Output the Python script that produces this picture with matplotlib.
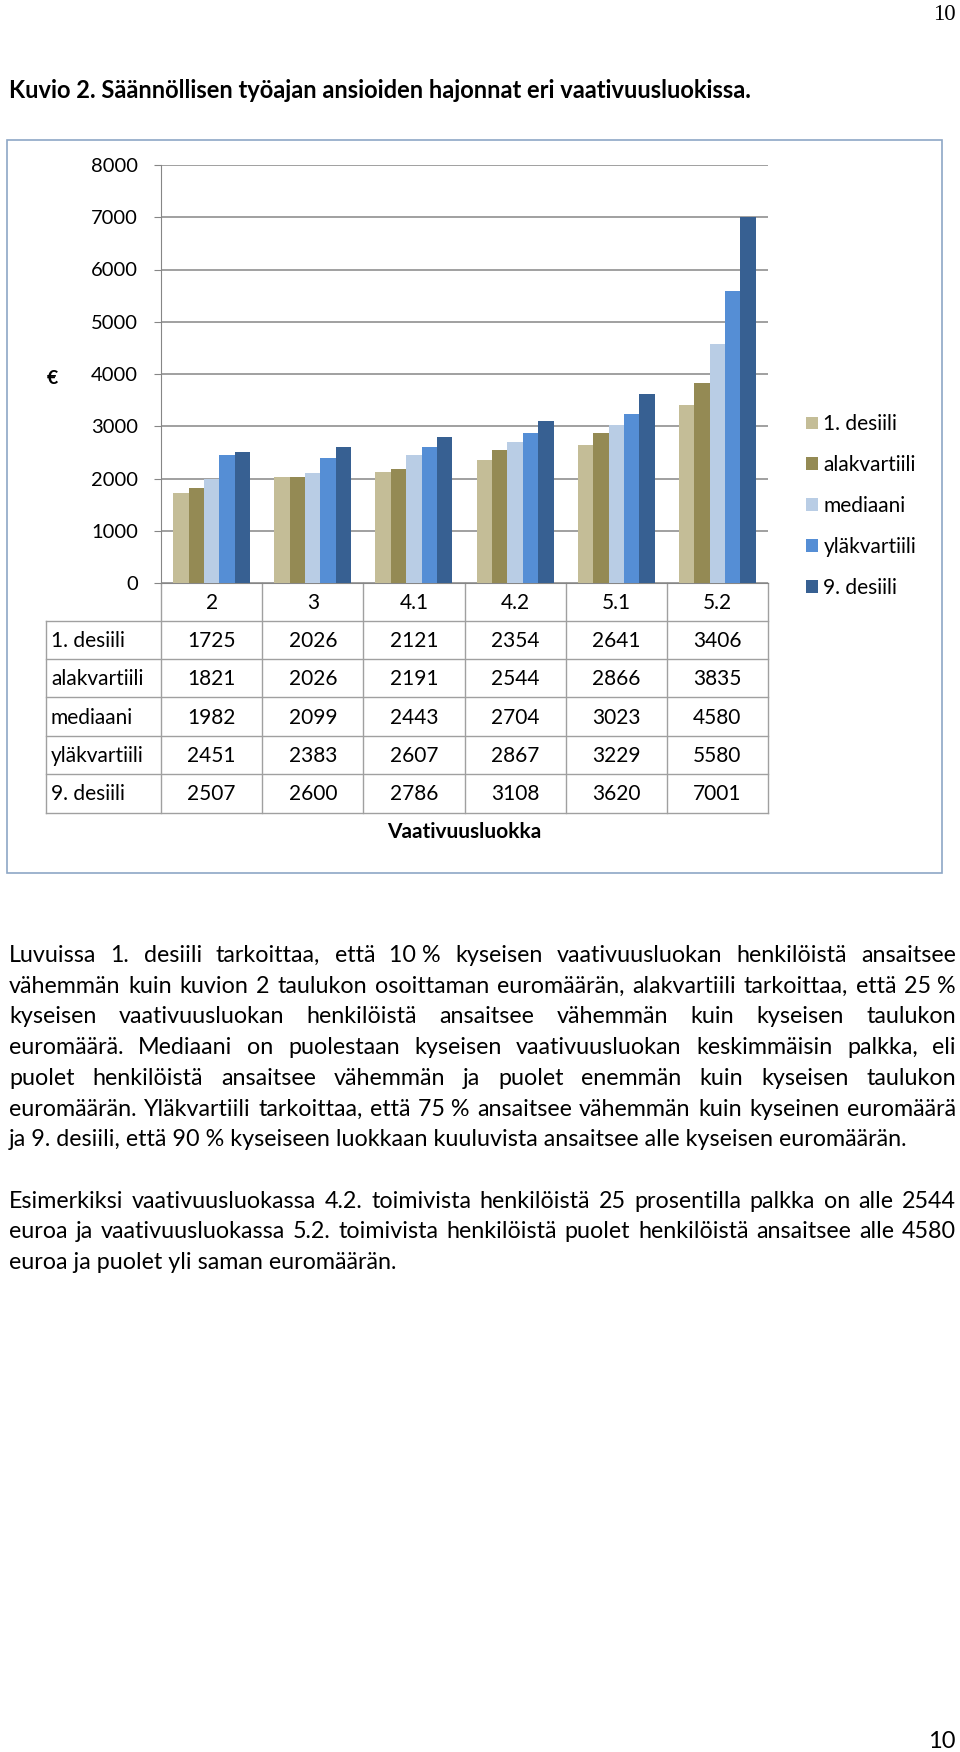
import numpy as np
import matplotlib
matplotlib.use('Agg')
from matplotlib import pyplot as plt
from matplotlib.patches import Rectangle

plt.rcParams['font.family'] = ['Lato', 'DejaVu Sans']

# data
categories = ['2', '3', '4.1', '4.2', '5.1', '5.2']
series_names = ['1. desiili', 'alakvartiili', 'mediaani', 'yläkvartiili', '9. desiili']
desiili_1 = [1725, 2026, 2121, 2354, 2641, 3406]
alakvartiili = [1821, 2026, 2191, 2544, 2866, 3835]
mediaani = [1982, 2099, 2443, 2704, 3023, 4580]
ylakvartiili = [2451, 2383, 2607, 2867, 3229, 5580]
desiili_9 = [2507, 2600, 2786, 3108, 3620, 7001]
yticks = [0, 1000, 2000, 3000, 4000, 5000, 6000, 7000, 8000]

title = 'Kuvio 2. Säännöllisen työajan ansioiden hajonnat eri vaativuusluokissa.'
x_label = 'Vaativuusluokka'
y_label = '€'
page_number = '10'

NB = '\u00a0'
paragraph_1 = [
    'Luvuissa 1. desiili tarkoittaa, että 10' + NB + '% kyseisen vaativuusluokan henkilöistä ansaitsee',
    'vähemmän kuin kuvion 2 taulukon osoittaman euromäärän, alakvartiili tarkoittaa, että 25' + NB + '%',
    'kyseisen vaativuusluokan henkilöistä ansaitsee vähemmän kuin kyseisen taulukon',
    'euromäärä. Mediaani on puolestaan kyseisen vaativuusluokan keskimmäisin palkka, eli',
    'puolet henkilöistä ansaitsee vähemmän ja puolet enemmän kuin kyseisen taulukon',
    'euromäärän. Yläkvartiili tarkoittaa, että 75' + NB + '% ansaitsee vähemmän kuin kyseinen euromäärä',
    'ja 9. desiili, että 90' + NB + '% kyseiseen luokkaan kuuluvista ansaitsee alle kyseisen euromäärän.',
]
paragraph_2 = [
    'Esimerkiksi vaativuusluokassa 4.2. toimivista henkilöistä 25 prosentilla palkka on alle 2544',
    'euroa ja vaativuusluokassa 5.2. toimivista henkilöistä puolet henkilöistä ansaitsee alle 4580',
    'euroa ja puolet yli saman euromäärän.',
]

series = [desiili_1, alakvartiili, mediaani, ylakvartiili, desiili_9]
colors = ['#C4BD97', '#948A54', '#B9CDE5', '#558ED5', '#376092']

W, H = 960, 1752
fig = plt.figure(figsize=(W / 100, H / 100), dpi=100)

# page overlay in pixel units
page = fig.add_axes([0, 0, 1, 1])
page.set_xlim(0, W)
page.set_ylim(H, 0)
page.axis('off')

renderer = fig.canvas.get_renderer()


def text_width(s, size, weight='normal'):
    t = page.text(0, 0, s, fontsize=size, fontweight=weight)
    w = t.get_window_extent(renderer).width
    t.remove()
    return w


def px_axes(x0, y0, x1, y1):
    return fig.add_axes([x0 / W, 1 - y1 / H, (x1 - x0) / W, (y1 - y0) / H])


# chart frame
page.add_patch(Rectangle((7, 140), 935, 733, fill=False, ec='#8EA7C6', lw=1.2))

# bar chart
plot_l, plot_r, plot_t, plot_b = 161, 768, 165, 583
ax = px_axes(plot_l, plot_t, plot_r, plot_b)
x = np.arange(len(categories))
bw = 0.152
for j, (vals, name, c) in enumerate(zip(series, series_names, colors)):
    ax.bar(x + (j - 2) * bw, vals, width=bw, color=c, label=name, zorder=3)
ax.set_xlim(-0.5, len(categories) - 0.5)
ax.set_ylim(0, 8000)
ax.set_yticks(yticks)
ax.set_xticks([])
ax.yaxis.grid(True, color='#868686', lw=1.1, zorder=0)
for s in ['top', 'right']:
    ax.spines[s].set_visible(False)
ax.spines['left'].set_color('#868686')
ax.spines['bottom'].set_color('#868686')
ax.tick_params(axis='y', length=5, width=0.8, color='#868686', pad=11.5, labelsize=14.5)
ax.set_facecolor('none')

page.text(52, 378, y_label, fontsize=14, fontweight='bold', ha='center', va='center')

# legend
fig.legend(loc='center left', bbox_to_anchor=(806 / W, 1 - 506 / H), frameon=False,
           fontsize=15, handlelength=0.58, handleheight=0.58, handletextpad=0.25,
           labelspacing=1.0, borderpad=0, borderaxespad=0)

# data table under the chart
cat_w = (plot_r - plot_l) / len(categories)
row_edges = [583, 621, 659, 697, 736, 774, 813]
table_left = 46
grid_c = '#A0A0A0'
for k in range(len(categories) + 1):
    xx = plot_l + k * cat_w
    page.plot([xx, xx], [row_edges[0], row_edges[-1]], color=grid_c, lw=1.0)
page.plot([table_left, table_left], [row_edges[1], row_edges[-1]], color=grid_c, lw=1.0)
for yy in row_edges[1:]:
    page.plot([table_left, plot_r], [yy, yy], color=grid_c, lw=1.0)
for k, cat in enumerate(categories):
    cx = plot_l + (k + 0.5) * cat_w
    page.text(cx, (row_edges[0] + row_edges[1]) / 2 + 1, cat, fontsize=15, ha='center', va='center')
for r, (name, vals) in enumerate(zip(series_names, series)):
    cy = (row_edges[r + 1] + row_edges[r + 2]) / 2 + 1
    page.text(51, cy, name, fontsize=15, ha='left', va='center')
    for k, v in enumerate(vals):
        cx = plot_l + (k + 0.5) * cat_w
        page.text(cx, cy, str(v), fontsize=15, ha='center', va='center')
page.text((plot_l + plot_r) / 2, 832, x_label, fontsize=15, fontweight='bold', ha='center', va='center')

# page numbers and title
page.text(956, 15, page_number, fontsize=16.5, family='Liberation Serif', ha='right', va='center')
page.text(956, 1741, page_number, fontsize=17, ha='right', va='center')

title_size = 10 * 742 / text_width(title, 10, 'bold')
page.text(9, 98, title, fontsize=title_size, fontweight='bold', ha='left', va='baseline')

# body text, justified like the original page
left_m, right_m = 9, 956
body_size = 10 * 897 / text_width(paragraph_1[-1], 10)
justified = paragraph_1[:-1] + paragraph_2[:-1]
widest = max(text_width(s, 10) for s in justified)
body_size = min(body_size, 10 * (right_m - left_m) / widest)


def draw_line(s, y, justify):
    if not justify:
        page.text(left_m, y, s, fontsize=body_size, ha='left', va='baseline')
        return
    words = s.split(' ')
    widths = [text_width(w_, body_size) for w_ in words]
    gap = (right_m - left_m - sum(widths)) / (len(words) - 1)
    xx = left_m
    for w_, ww in zip(words, widths):
        page.text(xx, y, w_, fontsize=body_size, ha='left', va='baseline')
        xx += ww + gap


line_h = 30.7
y0 = 962
for i, s in enumerate(paragraph_1):
    draw_line(s, y0 + i * line_h, i < len(paragraph_1) - 1)
y1 = y0 + (len(paragraph_1) + 1) * line_h
for i, s in enumerate(paragraph_2):
    draw_line(s, y1 + i * line_h, i < len(paragraph_2) - 1)

fig.savefig('out.png', dpi=100)
